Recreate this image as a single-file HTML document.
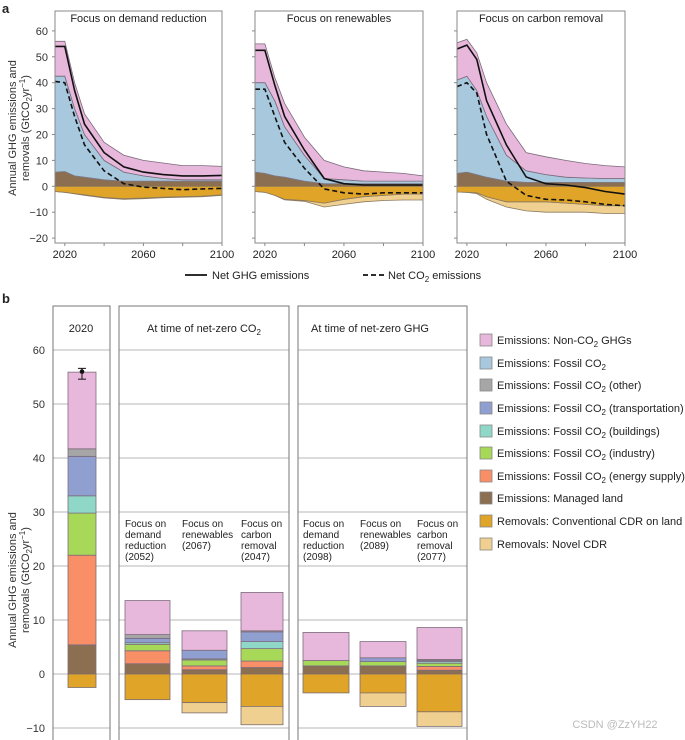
<!DOCTYPE html>
<html><head><meta charset="utf-8"><style>
body{margin:0;background:#fff;}
svg{display:block;font-family:"Liberation Sans",sans-serif;}
</style></head><body>
<svg id="fig" width="685" height="740" viewBox="0 0 685 740" xmlns="http://www.w3.org/2000/svg"></svg>
<script>
// ---------- Panel a data ----------
const years = [2015,2020,2025,2030,2040,2050,2060,2070,2080,2090,2100];
const scenarioTitles = ["Focus on demand reduction","Focus on renewables","Focus on carbon removal"];
const landTop = [
 [5.5,5.7,4,3.5,2.5,2,2,2,2,2,2],
 [5.5,5,4,3.5,2,1,1,1,1,1,1],
 [5,5.5,4.5,3.5,2,1.5,1.5,1.5,1.5,1.5,1.5]];
const fossilTop = [
 [42.5,42.5,30,20,10,5.5,4,3,2.5,2.5,2.5],
 [40,40,33,23,12,3,2.5,2,2,2,2],
 [41,42.5,37,27,12,6,4.5,3.5,3.2,3,3]];
const totalTop = [
 [56,56,40,28,17,12,10,9,8,8,7.7],
 [55,55,42,32,19,10,7.5,6,5.5,5,4],
 [55.4,56.7,51.5,40,24,13,11.4,10,8.8,8,7.5]];
const convBottom = [
 [-2,-2.3,-2.8,-3.3,-4.3,-4.8,-4.5,-4.2,-4,-3.8,-3.3],
 [-2,-2.3,-3.5,-5,-5.5,-6.5,-5,-4,-3.5,-3,-3],
 [-2.2,-2.3,-2.5,-4,-6,-6,-6,-6.5,-7,-7.5,-7.5]];
const novelBottom = [
 [-2,-2.3,-2.9,-3.5,-4.5,-5,-4.8,-4.4,-4.2,-4,-3.5],
 [-2,-2.3,-3.5,-5.2,-5.8,-8,-7,-6,-5.5,-5.3,-5.3],
 [-2.2,-2.3,-2.8,-5,-8,-9.5,-10,-10,-10,-10.5,-10.5]];
const netGHG = [
 [54,54,37,24,13,7.5,5.5,4.5,4,4,4.2],
 [52.5,52.5,39,27,14,3,1,0.5,0.5,0.5,0.5],
 [53,54.5,49,33,16,3.6,1,0.5,-0.5,-2,-3]];
const netCO2 = [
 [40.5,40,27,16,6,1,-0.3,-0.8,-1.3,-1,-0.8],
 [37.5,37.5,27,17,7,-1,-2.5,-3,-2.5,-2.5,-2.5],
 [38.5,40,36,20,2,-3.5,-5,-5.3,-6,-7,-7.5]];
const aYTicks = [60,50,40,30,20,10,0,-10,-20];
const aXTicks = [2020,2040,2060,2080,2100];
const aXLabels = ["2020","","2060","","2100"];

// ---------- Panel b data ----------
const colors = {land:"#8c6e50",energy:"#f88f66",industry:"#a8d858",buildings:"#8fd8c8",transport:"#8fa0d0",other:"#a6a6a6",fossil:"#a8c8de",nonco2:"#e8b8dc",conv:"#e0a428",novel:"#f0d090"};
const posKeys = ["land","energy","industry","buildings","transport","other","fossil","nonco2"];
const barLabels = [
 [],
 ["Focus on","demand","reduction","(2052)"],
 ["Focus on","renewables","(2067)"],
 ["Focus on","carbon","removal","(2047)"],
 ["Focus on","demand","reduction","(2098)"],
 ["Focus on","renewables","(2089)"],
 ["Focus on","carbon","removal","(2077)"]];
const bLand      = [5.4,1.9,0.8,1.2,1.5,1.5,0.7];
const bEnergy    = [16.6,2.4,0.7,1.2,0,0,0.7];
const bIndustry  = [7.8,1.2,1.1,2.3,1.0,0.8,0.6];
const bBuildings = [3.2,0.3,0.2,1.3,0,0,0.3];
const bTransport = [7.3,0.8,1.6,1.8,0,0.7,0.2];
const bOther     = [1.4,0.7,0,0.2,0,0,0.2];
const bFossil    = [0,0,0,0,0,0,0];
const bNonCO2    = [14.2,6.3,3.6,7.1,5.2,3.0,5.9];
const bConv      = [-2.5,-4.75,-5.3,-6.0,-3.5,-3.5,-7.0];
const bNovel     = [0,0,-1.9,-3.4,0,-2.5,-2.7];
const bErrLow = 54.6, bErrHigh = 56.6, bErrPoint = 56;
const bYTicks = [60,50,40,30,20,10,0,-10];

const legendItems = [
 ["nonco2","Emissions: Non-CO","₂"," GHGs"],
 ["fossil","Emissions: Fossil CO","₂",""],
 ["other","Emissions: Fossil CO","₂"," (other)"],
 ["transport","Emissions: Fossil CO","₂"," (transportation)"],
 ["buildings","Emissions: Fossil CO","₂"," (buildings)"],
 ["industry","Emissions: Fossil CO","₂"," (industry)"],
 ["energy","Emissions: Fossil CO","₂"," (energy supply)"],
 ["land","Emissions: Managed land","",""],
 ["conv","Removals: Conventional CDR on land","",""],
 ["novel","Removals: Novel CDR","",""]];

const svg = document.getElementById('fig');
const NS = "http://www.w3.org/2000/svg";
function mk(tag, attrs, parent){
  const e = document.createElementNS(NS, tag);
  for (const k in attrs) e.setAttribute(k, attrs[k]);
  (parent||svg).appendChild(e);
  return e;
}
function txt(x,y,s,size,anchor,parent){
  const t = mk('text',{x:x,y:y,'font-size':size,'text-anchor':anchor||'start',fill:'#222'},parent);
  t.textContent = s; return t;
}

let t = txt(2,13,"a",13,"start"); t.setAttribute('font-weight','bold');
 
t = txt(2,303,"b",13,"start"); t.setAttribute('font-weight','bold');
 

// ---------- Panel a ----------
const aPanels = [{x0:55,x1:222},{x0:255,x1:423},{x0:457,x1:625}];
const aTop = 11, aBot = 243;
function ay(v){ return 186.3 - v*2.59; }
function lineStr(xf, xs, ys){ return xs.map((x,i)=>(i?'L':'M')+xf(x).toFixed(1)+','+ay(ys[i]).toFixed(1)).join(''); }
function areaStr(xf, top, bot){
  let d = years.map((x,i)=>(i?'L':'M')+xf(x).toFixed(1)+','+ay(top[i]).toFixed(1)).join('');
  for (let i=years.length-1;i>=0;i--) d += 'L'+xf(years[i]).toFixed(1)+','+ay(bot[i]).toFixed(1);
  return d+'Z';
}
const zeros = years.map(()=>0);
aPanels.forEach((p,k)=>{
  const g = mk('g',{});
  
  
  const ax = v => p.x0 + (v-2015)*(p.x1-p.x0)/85;
  let e;
  e = mk('path',{d:areaStr(ax,novelBottom[k],convBottom[k]),fill:colors.novel,stroke:'#8a7a60','stroke-width':0.8},g);
   
  e = mk('path',{d:areaStr(ax,zeros,convBottom[k]),fill:colors.conv,stroke:'#8a7a60','stroke-width':0.8},g);
   
  e = mk('path',{d:areaStr(ax,landTop[k],zeros),fill:colors.land,stroke:'none'},g);
   
  e = mk('path',{d:areaStr(ax,fossilTop[k],landTop[k]),fill:colors.fossil,stroke:'#7a7a8a','stroke-width':0.8},g);
   
  e = mk('path',{d:areaStr(ax,totalTop[k],fossilTop[k]),fill:colors.nonco2,stroke:'#7a6a7a','stroke-width':0.8},g);
   
  e = mk('path',{d:lineStr(ax,years,netCO2[k]),fill:'none',stroke:'#111','stroke-width':1.6,'stroke-dasharray':'5,3'},g);
   
  e = mk('path',{d:lineStr(ax,years,netGHG[k]),fill:'none',stroke:'#111','stroke-width':1.6},g);
   
  e = mk('rect',{x:p.x0,y:aTop,width:p.x1-p.x0,height:aBot-aTop,fill:'none',stroke:'#888','stroke-width':1},g);
   
  aYTicks.forEach(v=>{
    mk('line',{x1:p.x0-3,x2:p.x0,y1:ay(v),y2:ay(v),stroke:'#888'},g);
    if(k===0){ const l=txt(p.x0-7,ay(v)+4,String(v).replace('-','−'),11,'end',g); l.setAttribute('fill','#333');}
  });
  aXTicks.forEach((v,i)=>{
    mk('line',{x1:ax(v),x2:ax(v),y1:aBot,y2:aBot+3,stroke:'#888'},g);
    if(aXLabels[i]) txt(ax(v),aBot+15,aXLabels[i],11,'middle',g);
  });
  const ti = txt((p.x0+p.x1)/2,22,scenarioTitles[k],11,'middle',g);
   
});
let yt = mk('text',{transform:'translate(16,128) rotate(-90)','font-size':11,'text-anchor':'middle',fill:'#333'});
yt.textContent='Annual GHG emissions and';
 
yt = mk('text',{transform:'translate(29,128) rotate(-90)','font-size':11,'text-anchor':'middle',fill:'#333'});
yt.innerHTML='removals (GtCO<tspan font-size="8" dy="3">2</tspan><tspan dy="-3">yr</tspan><tspan font-size="8" dy="-4">−1</tspan><tspan dy="4">)</tspan>';
let lg = mk('g',{});
 
mk('line',{x1:185,x2:207,y1:275,y2:275,stroke:'#111','stroke-width':1.8},lg);
txt(212,279,"Net GHG emissions",11,'start',lg);
mk('line',{x1:363,x2:384,y1:275,y2:275,stroke:'#111','stroke-width':1.8,'stroke-dasharray':'5,3'},lg);
let lt = txt(388,279,"",11,'start',lg);
lt.innerHTML='Net CO<tspan font-size="8" dy="3">2</tspan><tspan dy="-3"> emissions</tspan>';

// ---------- Panel b ----------
function by(v){ return 674 - v*5.4; }
const bPanels = [{x0:53,x1:110},{x0:119,x1:289},{x0:298,x1:467}];
const bBars = [{x:68,w:28},{x:125,w:45},{x:182,w:45},{x:241,w:42},{x:303,w:46},{x:360,w:46},{x:417,w:45}];
bPanels.forEach((p,k)=>{
  const g = mk('g',{});
  
  
  bYTicks.forEach(v=>{
    mk('line',{x1:p.x0,x2:p.x1,y1:by(v),y2:by(v),stroke:'#cfcfcf','stroke-width':1.5},g);
  });
  mk('rect',{x:p.x0,y:306,width:p.x1-p.x0,height:440,fill:'none',stroke:'#777','stroke-width':1},g);
});
bYTicks.forEach(v=>{ const l=txt(45,by(v)+4,String(v).replace('-','−'),11,'end'); l.setAttribute('fill','#333'); });
let h = txt(81,332,"2020",11,'middle');  
h = txt(204,332,"",11,'middle'); h.innerHTML='At time of net-zero CO<tspan font-size="8" dy="3">2</tspan>';
 
h = txt(311,332,"At time of net-zero GHG",11,'start');
 

const posSeries = [bLand,bEnergy,bIndustry,bBuildings,bTransport,bOther,bFossil,bNonCO2];
bBars.forEach((b,i)=>{
  const g = mk('g',{});
  
  
  let base = 0;
  posSeries.forEach((s,j)=>{
    if(s[i]<=0) return;
    const r = mk('rect',{x:b.x,y:by(base+s[i]),width:b.w,height:s[i]*5.4,fill:colors[posKeys[j]],stroke:'#7d6d7d','stroke-width':0.8},g);
    
    
    base += s[i];
  });
  let r = mk('rect',{x:b.x,y:by(0),width:b.w,height:-bConv[i]*5.4,fill:colors.conv,stroke:'#7d6d6d','stroke-width':0.8},g);
   
  if(bNovel[i]<0){
    r = mk('rect',{x:b.x,y:by(bConv[i]),width:b.w,height:-bNovel[i]*5.4,fill:colors.novel,stroke:'#7d6d6d','stroke-width':0.8},g);
     
  }
  barLabels[i].forEach((s,li)=>{ txt(b.x, 527+li*11, s, 10, 'start', g); });
});
const eb = mk('g',{});
 
mk('line',{x1:82,x2:82,y1:by(bErrHigh),y2:by(bErrLow),stroke:'#111'},eb);
mk('line',{x1:78,x2:86,y1:by(bErrHigh),y2:by(bErrHigh),stroke:'#111'},eb);
mk('line',{x1:78,x2:86,y1:by(bErrLow),y2:by(bErrLow),stroke:'#111'},eb);
mk('circle',{cx:82,cy:by(bErrPoint),r:2.3,fill:'#111'},eb);

yt = mk('text',{transform:'translate(16,580) rotate(-90)','font-size':11,'text-anchor':'middle',fill:'#333'});
yt.textContent='Annual GHG emissions and';
 
yt = mk('text',{transform:'translate(29,580) rotate(-90)','font-size':11,'text-anchor':'middle',fill:'#333'});
yt.innerHTML='removals (GtCO<tspan font-size="8" dy="3">2</tspan><tspan dy="-3">yr</tspan><tspan font-size="8" dy="-4">−1</tspan><tspan dy="4">)</tspan>';

const legY = [340,363,385,408,431,453,476,498,521,544];
legendItems.forEach((it,i)=>{
  const g = mk('g',{});
  
  
  mk('rect',{x:480,y:legY[i]-6,width:12,height:12,fill:colors[it[0]],stroke:'#888','stroke-width':0.8},g);
  const tx = txt(497,legY[i]+4,"",11,'start',g);
  tx.innerHTML = it[1] + (it[2]?'<tspan font-size="8" dy="3">2</tspan><tspan dy="-3">'+it[3]+'</tspan>':'');
});
const wm = txt(615,728,"CSDN @ZzYH22",11,'middle'); wm.setAttribute('fill','#bbb');
 
</script>
</body></html>
